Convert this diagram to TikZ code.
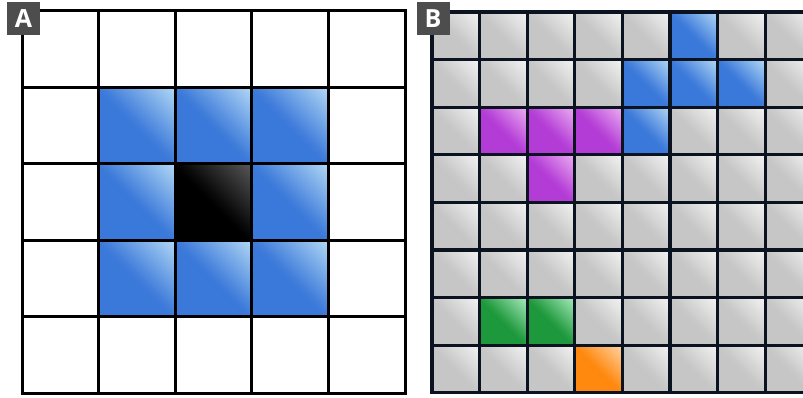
\documentclass[tikz,border=0pt]{standalone}
\usepackage{fontspec}
\setsansfont{Open Sans}
\usepackage{tikz}
\definecolor{cellblue}{HTML}{3A78D9}
\definecolor{cellbluehi}{HTML}{B4DAF6}
\definecolor{cellgrey}{HTML}{C6C6C6}
\definecolor{cellgreyhi}{HTML}{F4F4F4}
\definecolor{cellpurple}{HTML}{B43CD6}
\definecolor{cellpurplehi}{HTML}{EDB2F2}
\definecolor{cellgreen}{HTML}{1E983C}
\definecolor{cellgreenhi}{HTML}{ABEDC0}
\definecolor{cellorange}{HTML}{FF880E}
\definecolor{cellorangehi}{HTML}{FFD6A8}
\definecolor{cellblack}{HTML}{000000}
\definecolor{cellblackhi}{HTML}{5A5A5A}
\definecolor{inkB}{HTML}{0C1320}
\definecolor{tagbg}{HTML}{4D4D4D}
\pgfdeclarehorizontalshading[glosslo,glosshi]{glossy}{100bp}{color(0bp)=(glosslo); color(48bp)=(glosslo); color(52bp)=(glosslo!93!glosshi); color(86bp)=(glosshi); color(100bp)=(glosshi)}

\begin{document}
\begin{tikzpicture}[
    x=1pt, y=-1pt,
    gloss/.style 2 args={/utils/exec={\colorlet{glosslo}{#1}\colorlet{glosshi}{#2}},
                         shading=glossy, shading angle=45},
    gridA/.style={black, line width=3pt, line cap=rect},
    gridB/.style={inkB, line width=3.2pt, line cap=rect},
    tag/.style={fill=tagbg, text=white, minimum size=33pt, inner sep=0pt,
                font=\sffamily\bfseries\fontsize{25}{25}\selectfont}
]
\clip (0,0) rectangle (803,398);

% ---------- panel A: 5 x 5 ----------
\begin{scope}[shift={(22,11)}, x=76.6pt, y=-76.4pt]
\foreach \c/\r in {1/1,2/1,3/1,1/2,3/2,1/3,2/3,3/3}
  \shade[gloss={cellblue}{cellbluehi}] (\c,\r) rectangle ++(1,1);
\shade[gloss={cellblack}{cellblackhi}] (2,2) rectangle ++(1,1);
\foreach \i in {0,...,5} {
  \draw[gridA] (\i,0) -- (\i,5);
  \draw[gridA] (0,\i) -- (5,\i);
}
\end{scope}

% ---------- panel B: 8 rows, cut at the right ----------
\begin{scope}[shift={(432,12)}, x=47.6pt, y=-47.6pt]
\foreach \c in {0,...,7}
  \foreach \r in {0,...,7}
    \shade[gloss={cellgrey}{cellgreyhi}] (\c,\r) rectangle ++(1,1);
\foreach \c/\r in {5/0,4/1,5/1,6/1,4/2}
  \shade[gloss={cellblue}{cellbluehi}] (\c,\r) rectangle ++(1,1);
\foreach \c/\r in {1/2,2/2,3/2,2/3}
  \shade[gloss={cellpurple}{cellpurplehi}] (\c,\r) rectangle ++(1,1);
\foreach \c/\r in {1/6,2/6}
  \shade[gloss={cellgreen}{cellgreenhi}] (\c,\r) rectangle ++(1,1);
\shade[gloss={cellorange}{cellorangehi}] (3,7) rectangle ++(1,1);
\foreach \i in {0,...,8} {
  \draw[gridB] (\i,0) -- (\i,8);
  \draw[gridB] (0,\i) -- (8,\i);
}
\end{scope}

% ---------- panel tags ----------
\node[tag] (tagA) at (23.5,18.5) {A};
\node[tag] (tagB) at (433,18.5) {B};

\end{tikzpicture}
\end{document}
